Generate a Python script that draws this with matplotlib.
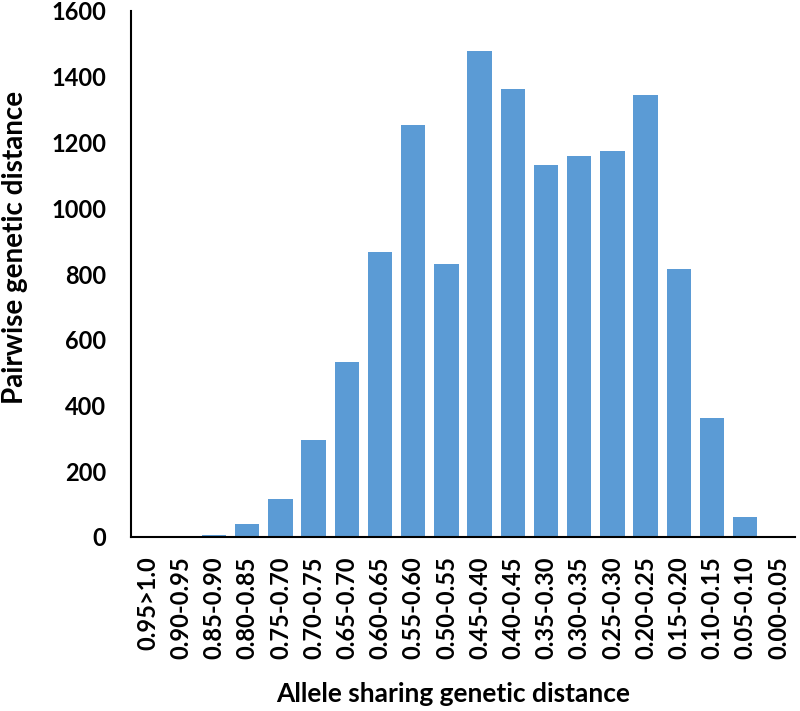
import matplotlib.pyplot as plt

categories = [
    "0.95>1.0", "0.90-0.95", "0.85-0.90", "0.80-0.85", "0.75-0.70",
    "0.70-0.75", "0.65-0.70", "0.60-0.65", "0.55-0.60", "0.50-0.55",
    "0.45-0.40", "0.40-0.45", "0.35-0.30", "0.30-0.35", "0.25-0.30",
    "0.20-0.25", "0.15-0.20", "0.10-0.15", "0.05-0.10", "0.00-0.05",
]
counts = [0, 0, 6, 40, 116, 295, 533, 866, 1254, 830,
          1478, 1364, 1131, 1159, 1175, 1346, 816, 362, 62, 3]

y_ticks = [0, 200, 400, 600, 800, 1000, 1200, 1400, 1600]

plt.rcParams["font.family"] = ["Lato", "DejaVu Sans"]

fig = plt.figure(figsize=(8, 7.11), dpi=100)
ax = fig.add_axes([131 / 800, 1 - 537 / 711, 664 / 800, 526 / 711])

x = range(len(categories))
ax.bar(x, counts, width=0.74, color="#5B9BD5")

ax.set_xlim(-0.5, len(categories) - 0.5)
ax.set_ylim(0, 1600)
ax.set_yticks(y_ticks)
ax.set_yticklabels([str(v) for v in y_ticks], fontsize=17, fontweight="bold")
ax.set_xticks(list(x))
ax.set_xticklabels(categories, rotation=90, fontsize=17, fontweight="bold")
ax.tick_params(axis="both", length=0)
ax.tick_params(axis="y", pad=18)
ax.tick_params(axis="x", pad=14)

for side in ["top", "right"]:
    ax.spines[side].set_visible(False)
for side in ["left", "bottom"]:
    ax.spines[side].set_linewidth(1.5)
    ax.spines[side].set_color("black")

ax.set_ylabel("Pairwise genetic distance", fontsize=20, fontweight="bold")
ax.yaxis.set_label_coords(-0.155, 0.55)
ax.set_xlabel("Allele sharing genetic distance", fontsize=19, fontweight="bold")
ax.xaxis.set_label_coords(0.485, -0.275)

fig.savefig("out.png", dpi=100)
